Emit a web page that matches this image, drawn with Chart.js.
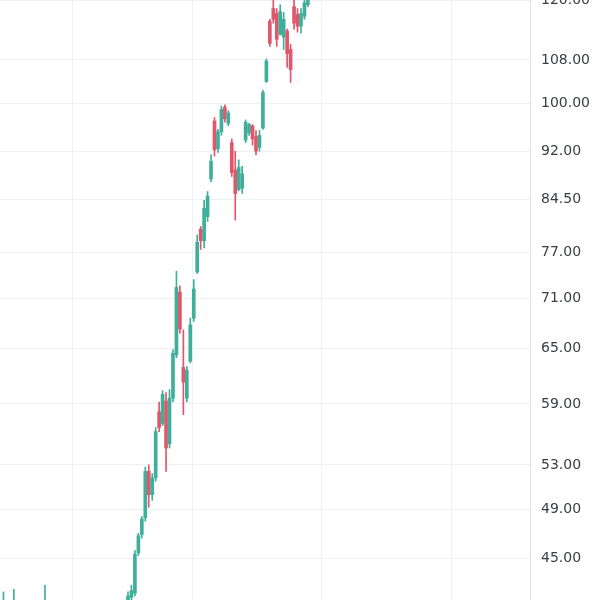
<!DOCTYPE html>
<html>
<head>
<meta charset="utf-8">
<script src="https://cdn.jsdelivr.net/npm/chart.js@4.4.1/dist/chart.umd.min.js"></script>
<style>
  html, body { margin: 0; padding: 0; background: #fff; }
  #wrap { width: 600px; height: 600px; }
</style>
</head>
<body>
<div id="wrap"><canvas id="price-chart"></canvas></div>
<script>
// daily candles (first ones sit mostly below the view)
const open = [
  40.6, 40.9,
  40.5, 40.8, 41.2, 40.5, 41.0, 40.6, 40.2, 40.7, 41.1, 40.4, 40.0, 40.5,
  40.9, 41.3, 40.8, 40.3, 39.9, 40.2, 40.6, 40.1, 39.7, 39.5, 39.9, 40.3,
  40.0, 39.6, 39.8, 40.2, 40.5, 40.1, 39.8, 40.0, 40.4, 40.9,
  41.3, 42.0, 42.3, 45.4, 46.9, 48.3, 52.4, 50.3, 51.8, 58.2, 57.0, 59.3,
  55.0, 59.6, 64.3, 71.8, 62.9, 59.6, 63.6, 68.6, 74.4, 80.2, 78.6, 82.0,
  87.6, 97.0, 92.4, 95.2, 99.4, 96.6, 93.4, 89.0, 86.0, 86.2, 93.8, 95.0,
  96.2, 94.4, 92.6, 95.8, 104.0, 115.6, 118.2, 117.2, 113.0, 112.4, 113.6, 110.0,
  118.6, 117.0, 114.6, 116.6, 119.0
];
const high = [
  42.4, 41.5,
  41.3, 42.6, 41.6, 41.2, 41.4, 41.1, 41.0, 41.3, 41.6, 41.2, 42.9, 41.1,
  41.3, 41.7, 41.5, 40.9, 40.6, 40.9, 41.0, 40.7, 40.2, 40.1, 40.6, 40.8,
  40.6, 40.2, 40.5, 40.8, 41.0, 40.7, 40.4, 40.7, 41.2, 41.6,
  42.4, 42.9, 45.6, 47.0, 48.4, 52.8, 53.0, 52.2, 56.6, 59.2, 60.4, 60.2,
  60.5, 64.9, 74.5, 72.6, 67.2, 63.0, 68.6, 73.4, 79.4, 80.6, 84.4, 85.7,
  91.4, 97.6, 95.6, 99.6, 99.8, 98.8, 94.0, 92.0, 90.6, 89.6, 97.2, 96.6,
  96.4, 95.4, 95.4, 102.4, 108.2, 116.0, 120.6, 118.2, 119.0, 117.4, 114.0, 111.0,
  120.2, 118.2, 118.2, 120.6, 122.0
];
const low = [
  40.0, 40.3,
  39.9, 40.2, 40.1, 40.0, 40.2, 39.8, 39.7, 40.0, 40.1, 39.7, 39.5, 39.9,
  40.3, 40.4, 39.9, 39.5, 39.4, 39.7, 39.8, 39.3, 39.0, 39.0, 39.4, 39.6,
  39.2, 39.1, 39.4, 39.7, 39.8, 39.5, 39.4, 39.6, 40.1, 40.5,
  41.0, 41.7, 42.1, 45.2, 46.6, 48.0, 49.2, 49.8, 51.5, 56.2, 56.8, 52.4,
  54.6, 59.2, 64.0, 66.8, 57.9, 59.2, 63.4, 68.2, 74.2, 77.4, 77.6, 81.3,
  87.2, 91.2, 91.8, 94.6, 96.8, 96.2, 88.0, 81.5, 85.8, 85.4, 93.4, 94.6,
  93.0, 91.4, 92.0, 95.6, 103.8, 110.6, 115.2, 110.6, 112.8, 110.0, 106.6, 103.8,
  114.0, 113.4, 113.2, 116.0, 118.6
];
const close = [
  40.9, 40.5,
  40.8, 41.2, 40.5, 41.0, 40.6, 40.2, 40.7, 41.1, 40.4, 40.0, 40.5, 40.9,
  41.3, 40.8, 40.3, 39.9, 40.2, 40.6, 40.1, 39.7, 39.5, 39.9, 40.3, 40.0,
  39.6, 39.8, 40.2, 40.5, 40.1, 39.8, 40.0, 40.4, 40.9, 41.3,
  42.1, 42.5, 45.3, 46.8, 48.2, 52.4, 50.3, 51.8, 56.2, 56.6, 60.0, 54.6,
  59.6, 64.5, 72.4, 67.3, 61.3, 62.6, 67.8, 72.2, 78.4, 78.6, 83.2, 85.0,
  90.4, 92.2, 95.2, 99.0, 97.4, 98.4, 88.6, 85.4, 89.4, 88.4, 96.8, 96.4,
  94.0, 92.0, 94.6, 102.0, 107.8, 111.2, 116.0, 112.0, 117.6, 116.0, 109.2, 106.2,
  115.2, 114.6, 117.2, 119.4, 121.0
];

// price axis labels and where the vertical grid lines fall (in candle index)
const priceTicks = [45, 49, 53, 59, 65, 71, 77, 84.5, 92, 100, 108, 120];
const timeGrid = [20, 54.5, 92, 129.5];

const UP = '#3fae9b';
const DOWN = '#e0566a';
const colors = open.map((o, i) => close[i] >= o ? UP : DOWN);

new Chart(document.getElementById('price-chart'), {
  type: 'bar',
  data: {
    datasets: [
      {
        label: 'wick',
        data: low.map((l, i) => ({ x: i, y: [l, high[i]] })),
        backgroundColor: colors,
        barThickness: 1,
        grouped: false,
        order: 2
      },
      {
        label: 'body',
        data: open.map((o, i) => ({ x: i, y: [o, close[i]] })),
        backgroundColor: colors,
        barThickness: 3,
        grouped: false,
        order: 1
      }
    ]
  },
  options: {
    responsive: true,
    maintainAspectRatio: false,
    animation: false,
    layout: { padding: 0 },
    plugins: { legend: { display: false }, tooltip: { enabled: false } },
    scales: {
      x: {
        type: 'linear',
        offset: false,
        min: -1,
        max: 152.2,
        afterBuildTicks: s => { s.ticks = timeGrid.map(v => ({ value: v })); },
        afterFit: s => { s.height = 0; s.paddingLeft = 0; s.paddingRight = 0; },
        ticks: { display: false },
        grid: { color: '#eef1f6', drawTicks: false, offset: false },
        border: { display: false }
      },
      y: {
        type: 'logarithmic',
        position: 'right',
        min: 41.8,
        max: 120,
        afterBuildTicks: s => { s.ticks = priceTicks.map(v => ({ value: v })); },
        afterFit: s => { s.width = 70; s.paddingTop = 0; s.paddingBottom = 0; },
        ticks: {
          autoSkip: false,
          padding: 11,
          color: '#3a3d45',
          font: { family: 'DejaVu Sans', size: 14 },
          callback: v => Number(v).toFixed(2)
        },
        grid: { color: '#eef1f6', drawTicks: false },
        border: { display: true, color: '#e0e3eb' }
      }
    }
  }
});
</script>
</body>
</html>
